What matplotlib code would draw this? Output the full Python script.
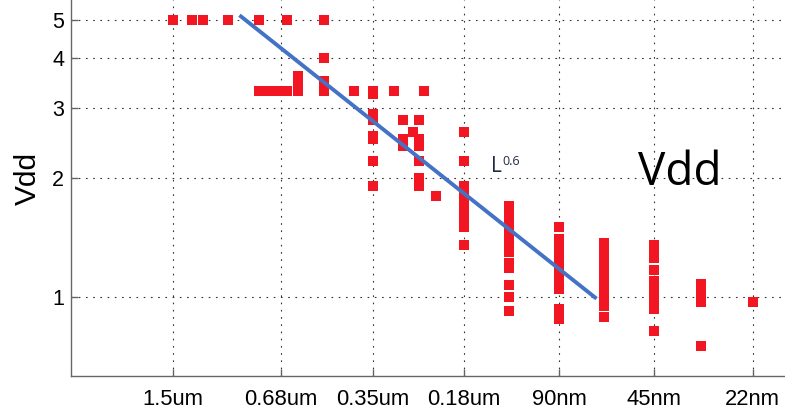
import matplotlib
matplotlib.use("Agg")
import matplotlib.pyplot as plt
from matplotlib.ticker import NullLocator

# Process node (feature size, nm) and supply voltage (V), one entry per dot.
feature_nm = (
    [1500, 1300, 1200, 1000, 800, 650, 500]
    + [800, 750, 700, 650]
    + [600, 600, 600]
    + [500, 500, 500]
    + [400]
    + [350] * 8
    + [300]
    + [280, 280, 280]
    + [260]
    + [250] * 8
    + [240]
    + [220]
    + [180] * 9
    + [130] * 13
    + [90] * 12
    + [65] * 10
    + [45] * 10
    + [32] * 5
    + [22]
)
vdd = (
    [5.0, 5.0, 5.0, 5.0, 5.0, 5.0, 5.0]
    + [3.3, 3.3, 3.3, 3.3]
    + [3.3, 3.45, 3.6]
    + [4.0, 3.5, 3.3]
    + [3.3]
    + [3.3, 3.25, 2.9, 2.8, 2.55, 2.5, 2.2, 1.9]
    + [3.3]
    + [2.8, 2.5, 2.4]
    + [2.6]
    + [2.8, 2.5, 2.45, 2.4, 2.2, 2.0, 1.95, 1.9]
    + [3.3]
    + [1.8]
    + [2.6, 2.2, 1.9, 1.8, 1.7, 1.6, 1.55, 1.5, 1.35]
    + [1.7, 1.6, 1.55, 1.5, 1.45, 1.4, 1.35, 1.3, 1.22, 1.18, 1.07, 1.0, 0.92]
    + [1.5, 1.4, 1.35, 1.3, 1.25, 1.2, 1.15, 1.1, 1.05, 0.93, 0.9, 0.88]
    + [1.37, 1.3, 1.25, 1.2, 1.15, 1.1, 1.05, 1.0, 0.95, 0.89]
    + [1.35, 1.3, 1.25, 1.17, 1.1, 1.05, 1.0, 0.95, 0.93, 0.82]
    + [1.08, 1.05, 1.0, 0.97, 0.75]
    + [0.97]
)

# L^0.6 trend line end points
fit_nm = [922, 68.5]
fit_vdd = [5.13, 0.99]

tick_nm = [1500, 680, 350, 180, 90, 45, 22]
tick_labels = ["1.5um", "0.68um", "0.35um", "0.18um", "90nm", "45nm", "22nm"]
vdd_ticks = [1, 2, 3, 4, 5]

# slightly taller than wide, like the original dots
RECT = [(-0.45, -0.5), (0.45, -0.5), (0.45, 0.5), (-0.45, 0.5), (-0.45, -0.5)]

W, H = 785, 409
fig = plt.figure(figsize=(W / 100, H / 100), dpi=100)
ax = fig.add_axes([70.5 / W, 33.3 / H, 1 - 70.5 / W, 1 - 33.3 / H])

ax.plot(feature_nm, vdd, linestyle="none", marker=RECT, ms=7.4, mew=0,
        color="#F21622", zorder=3)
ax.plot(fit_nm, fit_vdd, color="#4472C4", lw=2.8, solid_capstyle="butt", zorder=4)

ax.set_xscale("log")
ax.set_yscale("log")
ax.set_xlim(3155, 17.37)
ax.set_ylim(0.633, 5.605)

ax.set_xticks(tick_nm, labels=tick_labels)
ax.set_yticks(vdd_ticks, labels=[str(v) for v in vdd_ticks])
ax.xaxis.set_minor_locator(NullLocator())
ax.yaxis.set_minor_locator(NullLocator())

for lab in ax.get_xticklabels() + ax.get_yticklabels():
    lab.set_family("Liberation Sans")
ax.tick_params(axis="both", direction="in", length=5, width=1, color="0.4")
ax.tick_params(axis="x", labelsize=15.8, pad=9.8)
ax.tick_params(axis="y", labelsize=15.5, pad=4.5)

ax.grid(True, which="major", color="0.2", linestyle=(0, (1.5, 5)), linewidth=0.8)
ax.set_axisbelow(True)

for side in ("top", "right"):
    ax.spines[side].set_visible(False)
for side in ("left", "bottom"):
    ax.spines[side].set_color("0.4")
    ax.spines[side].set_linewidth(1)

ax.set_ylabel("Vdd", fontsize=21.5, family="Liberation Sans")
ax.yaxis.label.set_rotation_mode("anchor")
ax.yaxis.label.set_va("baseline")
ax.yaxis.set_label_coords(36 / W, 1 - 178.4 / H, transform=fig.transFigure)

fig.text(638 / W, 1 - 185 / H, "Vdd", fontsize=33, family="Open Sans",
         ha="left", va="baseline", color="black")
fig.text(491 / W, 1 - 171.7 / H, "L", fontsize=15, family="Open Sans",
         ha="left", va="baseline", color="#1F2A44")
fig.text(502.5 / W, 1 - 165 / H, "0.6", fontsize=9, family="Open Sans",
         ha="left", va="baseline", color="#1F2A44")

fig.savefig("out.png", dpi=100)
